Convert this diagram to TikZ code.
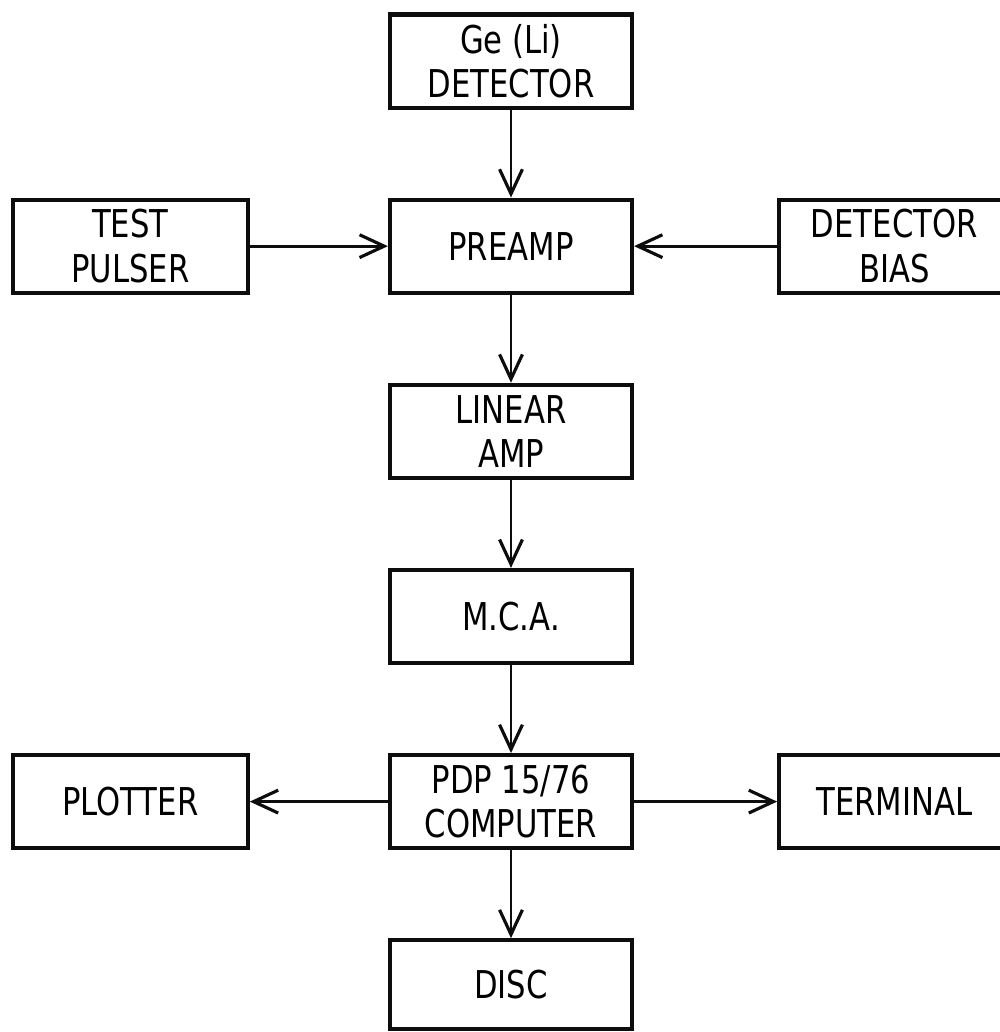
\documentclass[tikz,border=0pt]{standalone}
\usepackage{fontspec}
\setmainfont{DejaVu Sans}[FakeStretch=0.8]
\usepackage{xcolor}
\usepackage{tikz}
\usetikzlibrary{arrows.meta,positioning}
\definecolor{inkDark}{gray}{0.05}

\begin{document}
\begin{tikzpicture}[x=0.01cm, y=-0.01cm,
      node distance=0.88cm and 1.38cm,
      unit/.style={draw=inkDark, line width=1.15pt, minimum width=2.42cm,
                   minimum height=0.93cm, align=center, inner sep=0pt,
                   font=\fontsize{10.9}{12.6}\selectfont},
      side/.style={unit, minimum width=2.35cm},
      flow/.style={-{Straight Barb[length=7pt, width=6.5pt, line width=0.9pt]},
                   line width=0.85pt, draw=inkDark}]
    \useasboundingbox (0,0) rectangle (1000,1032);
    \clip (0,0) rectangle (1000,1032);
    \node[unit] (geli) at (511,61) {Ge (Li)\\DETECTOR};
    \node[unit, below=of geli] (preamp) {PREAMP};
    \node[unit, below=of preamp] (linamp) {LINEAR\\AMP};
    \node[unit, below=of linamp] (mca) {M.C.A.};
    \node[unit, below=of mca] (pdp) {PDP 15/76\\COMPUTER};
    \node[unit, below=of pdp, minimum height=0.89cm] (disc) {DISC};
    \node[side, left=of preamp] (pulser) {TEST\\PULSER};
    \node[side, right=1.43cm of preamp, minimum width=2.3cm] (bias) {DETECTOR\\BIAS};
    \node[side, left=of pdp] (plotter) {PLOTTER};
    \node[side, right=1.43cm of pdp, minimum width=2.3cm] (terminal) {TERMINAL};
    \draw[flow] (geli) -- (preamp);
    \draw[flow] (pulser) -- (preamp);
    \draw[flow] (bias) -- (preamp);
    \draw[flow] (preamp) -- (linamp);
    \draw[flow] (linamp) -- (mca);
    \draw[flow] (mca) -- (pdp);
    \draw[flow] (pdp) -- (plotter);
    \draw[flow] (pdp) -- (terminal);
    \draw[flow] (pdp) -- (disc);
  \end{tikzpicture}
\end{document}
